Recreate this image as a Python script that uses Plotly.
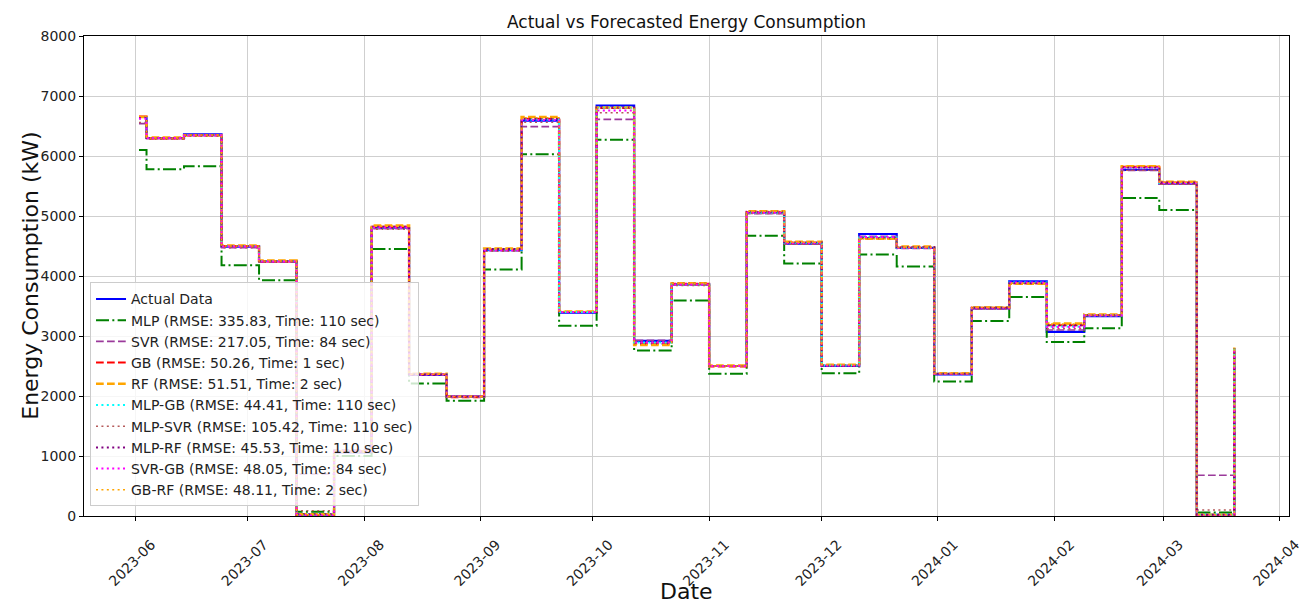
"""Actual vs forecasted energy consumption, step plot of all models."""

import plotly.graph_objects as go

dates = [
    "2023-06-02", "2023-06-04", "2023-06-14", "2023-06-24", "2023-07-04", "2023-07-14",
    "2023-07-24", "2023-08-03", "2023-08-13", "2023-08-23", "2023-09-02", "2023-09-12",
    "2023-09-22", "2023-10-02", "2023-10-12", "2023-10-22", "2023-11-01", "2023-11-11",
    "2023-11-21", "2023-12-01", "2023-12-11", "2023-12-21", "2023-12-31", "2024-01-10",
    "2024-01-20", "2024-01-30", "2024-02-09", "2024-02-19", "2024-02-29", "2024-03-10",
    "2024-03-20",
]

actual = [6650, 6300, 6360, 4490, 4250, 20, 1060, 4800, 2350, 1990, 4430, 6590, 3390, 6840, 2920, 3860,
          2500, 5060, 4540, 2500, 4700, 4470, 2360, 3460, 3910, 3070, 3330, 5770, 5540, 20, 2800]
mlp = [6100, 5780, 5830, 4180, 3930, 70, 1000, 4450, 2210, 1920, 4110, 6030, 3170, 6270, 2760, 3590,
       2370, 4670, 4210, 2380, 4360, 4160, 2240, 3250, 3650, 2900, 3130, 5300, 5100, 60, 2750]
svr = [6540, 6290, 6340, 4470, 4230, 700, 1100, 4790, 2360, 2000, 4420, 6490, 3400, 6610, 2930, 3850,
       2500, 5040, 4530, 2510, 4660, 4460, 2370, 3450, 3880, 3100, 3340, 5760, 5530, 680, 2790]
gb = [6660, 6290, 6350, 4500, 4240, 10, 1070, 4820, 2360, 1980, 4440, 6620, 3400, 6800, 2880, 3870,
      2490, 5070, 4560, 2510, 4630, 4480, 2370, 3470, 3880, 3180, 3350, 5820, 5560, 10, 2790]
rf = [6650, 6310, 6340, 4510, 4260, 30, 1080, 4840, 2370, 1990, 4460, 6650, 3410, 6810, 2850, 3880,
      2510, 5080, 4570, 2520, 4620, 4490, 2380, 3480, 3870, 3210, 3360, 5830, 5570, 20, 2810]
mlp_gb = [6640, 6300, 6350, 4500, 4250, 20, 1070, 4810, 2360, 1990, 4440, 6610, 3400, 6810, 2890, 3860,
          2500, 5060, 4550, 2510, 4640, 4470, 2370, 3470, 3890, 3160, 3340, 5800, 5550, 20, 2800]
mlp_svr = [6560, 6280, 6330, 4470, 4230, 90, 1080, 4780, 2360, 2000, 4410, 6560, 3400, 6720, 2900, 3840,
           2500, 5040, 4530, 2510, 4640, 4460, 2370, 3450, 3880, 3120, 3340, 5760, 5530, 100, 2790]
mlp_rf = [6650, 6300, 6350, 4500, 4250, 30, 1070, 4820, 2360, 1990, 4450, 6620, 3400, 6810, 2870, 3870,
          2500, 5070, 4560, 2510, 4630, 4480, 2370, 3470, 3880, 3180, 3350, 5810, 5560, 20, 2800]
svr_gb = [6620, 6300, 6340, 4490, 4240, 10, 1080, 4810, 2360, 1990, 4430, 6600, 3400, 6760, 2890, 3860,
          2500, 5060, 4550, 2510, 4650, 4470, 2370, 3470, 3890, 3150, 3340, 5810, 5550, 10, 2800]
gb_rf = [6660, 6300, 6350, 4500, 4250, 20, 1070, 4830, 2360, 1990, 4450, 6640, 3410, 6810, 2860, 3870,
         2500, 5080, 4560, 2520, 4620, 4480, 2380, 3480, 3880, 3200, 3350, 5830, 5560, 20, 2800]

month_ticks = ["2023-06-01", "2023-07-01", "2023-08-01", "2023-09-01", "2023-10-01", "2023-11-01",
               "2023-12-01", "2024-01-01", "2024-02-01", "2024-03-01", "2024-04-01"]
month_labels = ["2023-06", "2023-07", "2023-08", "2023-09", "2023-10", "2023-11",
                "2023-12", "2024-01", "2024-02", "2024-03", "2024-04"]

# matplotlib-like dash patterns (lw ~2px)
DASH = "7.7px,3.3px"
DASHDOT = "13px,3.3px,2px,3.3px"
DOT = "2px,3.4px"

series = [
    ("Actual Data", actual, "#0000ff", "solid", 2.2),
    ("MLP (RMSE: 335.83, Time: 110 sec)", mlp, "#008000", DASHDOT, 2),
    ("SVR (RMSE: 217.05, Time: 84 sec)", svr, "#9b3a9b", DASH, 1.6),
    ("GB (RMSE: 50.26, Time: 1 sec)", gb, "#ff0000", DASH, 2),
    ("RF (RMSE: 51.51, Time: 2 sec)", rf, "#ffa500", DASH, 2.5),
    ("MLP-GB (RMSE: 44.41, Time: 110 sec)", mlp_gb, "#00ffff", DOT, 2),
    ("MLP-SVR (RMSE: 105.42, Time: 110 sec)", mlp_svr, "#b55a5a", DOT, 1.4),
    ("MLP-RF (RMSE: 45.53, Time: 110 sec)", mlp_rf, "#800080", DOT, 2),
    ("SVR-GB (RMSE: 48.05, Time: 84 sec)", svr_gb, "#ff00ff", DOT, 2),
    ("GB-RF (RMSE: 48.11, Time: 2 sec)", gb_rf, "#ffa500", DOT, 1.4),
]

FONT = "DejaVu Sans"

fig = go.Figure()
for name, vals, color, dash, width in series:
    fig.add_trace(
        go.Scatter(
            x=dates,
            y=vals,
            mode="lines",
            name=name,
            line=dict(color=color, dash=dash, width=width, shape="hv"),
        )
    )

axis_common = dict(
    showline=True,
    linecolor="black",
    linewidth=1,
    mirror=True,
    ticks="outside",
    ticklen=4,
    tickcolor="black",
    showgrid=True,
    gridcolor="#cfcfcf",
    gridwidth=1,
    zeroline=False,
    automargin=False,
    tickfont=dict(family=FONT, size=14, color="#222222"),
)

fig.update_layout(
    width=1303,
    height=603,
    margin=dict(l=84, r=14, t=36, b=87),
    paper_bgcolor="white",
    plot_bgcolor="white",
    font=dict(family=FONT, size=14, color="#222222"),
    title=dict(
        text="Actual vs Forecasted Energy Consumption",
        x=0.5,
        xref="paper",
        xanchor="center",
        y=1 - 22 / 603,
        yref="container",
        yanchor="middle",
        font=dict(family=FONT, size=17, color="#111111"),
    ),
    xaxis=dict(
        type="date",
        range=["2023-05-18 08:00", "2024-04-03 14:00"],
        tickvals=month_ticks,
        ticktext=month_labels,
        tickangle=-45,
        ticklabelshift=16,
        ticklabelstandoff=10,
        ticklabeloverflow="allow",
        **axis_common,
    ),
    yaxis=dict(
        range=[0, 8000],
        tickvals=[0, 1000, 2000, 3000, 4000, 5000, 6000, 7000, 8000],
        **axis_common,
    ),
    legend=dict(
        x=0.005,
        y=0.02,
        xanchor="left",
        yanchor="bottom",
        bgcolor="rgba(255,255,255,0.8)",
        bordercolor="#cccccc",
        borderwidth=1,
        font=dict(family=FONT, size=14, color="#222222"),
        tracegroupgap=0,
    ),
    annotations=[
        dict(
            text="Energy Consumption (kW)",
            xref="paper",
            yref="paper",
            x=-0.045,
            y=0.5,
            textangle=-90,
            showarrow=False,
            xanchor="center",
            yanchor="middle",
            font=dict(family=FONT, size=22, color="#111111"),
        ),
        dict(
            text="Date",
            xref="paper",
            yref="paper",
            x=0.5,
            y=-0.158,
            showarrow=False,
            xanchor="center",
            yanchor="middle",
            font=dict(family=FONT, size=22, color="#111111"),
        ),
    ],
)

# the page body has an 8px default margin; drop it so the figure sits at 0,0
fig.write_html(
    "out.html",
    config={"displayModeBar": False},
    post_script="document.body.style.margin = '0';",
)
